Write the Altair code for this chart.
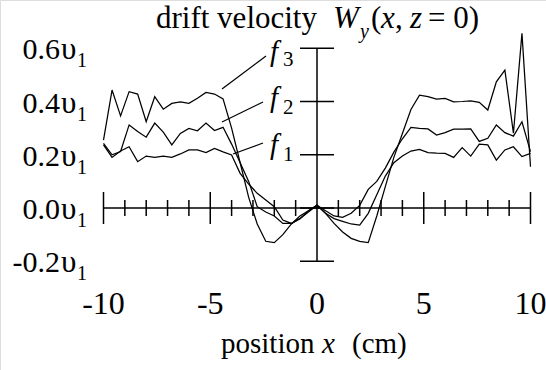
import altair as alt
import pandas as pd

# ---------------- data ----------------
x_pos = [-10.0, -9.6, -9.2, -8.8, -8.4, -8.0, -7.6, -7.2, -6.8, -6.4,
         -6.0, -5.6, -5.2, -4.8, -4.4, -4.0, -3.6, -3.2, -2.8, -2.4,
         -2.0, -1.6, -1.2, -0.8, -0.4, 0.0, 0.4, 0.8, 1.2, 1.6,
         2.0, 2.4, 2.8, 3.2, 3.6, 4.0, 4.4, 4.8, 5.2, 5.6,
         6.0, 6.4, 6.8, 7.2, 7.6, 8.0, 8.4, 8.8, 9.2, 9.6, 10.0]

f1 = [0.237, 0.190, 0.214, 0.230, 0.174, 0.195, 0.190, 0.195, 0.190, 0.203,
      0.218, 0.218, 0.208, 0.224, 0.211, 0.199, 0.130, 0.090, 0.055, 0.030,
      0.005, -0.045, -0.058, -0.040, -0.015, 0.010, -0.020, -0.040, -0.050, -0.060,
      -0.064, -0.020, 0.050, 0.120, 0.170, 0.195, 0.214, 0.220, 0.208, 0.206,
      0.205, 0.190, 0.227, 0.195, 0.240, 0.237, 0.180, 0.218, 0.230, 0.193, 0.205]

f2 = [0.243, 0.200, 0.212, 0.312, 0.287, 0.266, 0.319, 0.285, 0.237, 0.280,
      0.299, 0.290, 0.319, 0.291, 0.303, 0.240, 0.170, 0.100, 0.005, -0.015,
      -0.030, -0.058, -0.058, -0.040, -0.010, 0.010, -0.010, -0.030, -0.035, -0.020,
      0.010, 0.070, 0.100, 0.150, 0.210, 0.260, 0.303, 0.299, 0.297, 0.274,
      0.283, 0.296, 0.296, 0.297, 0.250, 0.262, 0.312, 0.283, 0.270, 0.324, 0.212]

f3 = [0.255, 0.443, 0.346, 0.437, 0.428, 0.324, 0.418, 0.371, 0.393, 0.399,
      0.393, 0.412, 0.434, 0.428, 0.410, 0.300, 0.170, 0.040, -0.060, -0.125,
      -0.130, -0.100, -0.060, -0.030, -0.010, 0.010, -0.020, -0.058, -0.090, -0.114,
      -0.125, -0.130, -0.030, 0.080, 0.190, 0.280, 0.370, 0.424, 0.418, 0.409,
      0.412, 0.399, 0.400, 0.402, 0.397, 0.368, 0.474, 0.518, 0.281, 0.656, 0.155]

series_names = ["f1", "f2", "f3"]
series_subs = ["1", "2", "3"]

x_major = [-10, -5, 5, 10]
x_minor = [-9, -8, -7, -6, -4, -3, -2, -1, 1, 2, 3, 4, 6, 7, 8, 9]
x_tick_labels = [-10, -5, 0, 5, 10]
y_ticks = [-0.2, 0.0, 0.2, 0.4, 0.6]
y_tick_text = ["-0.2", "0.0", "0.2", "0.4", "0.6"]

# ---------------- layout ----------------
W, H = 546, 370
X0_PX, X_PX = 317.0, 21.35     # pixel of x = 0, pixels per cm
Y0_PX, Y_PX = 208.0, 266.25    # pixel of y = 0, pixels per v1
SERIF = "Liberation Serif"
FS = 30
FS_T = 31
FS_SUB = 20

# series-label placement (pixel baselines of "f" and of its subscript)
f_base_px = [154, 107, 61]
sub_base_px = [161, 114, 66]


def px_x(p):
    return (p - X0_PX) / X_PX


def px_y(p):
    return (Y0_PX - p) / Y_PX


xs = alt.Scale(domain=[px_x(0), px_x(W)], nice=False, zero=False)
ys = alt.Scale(domain=[px_y(H), px_y(0)], nice=False, zero=False)


def X(f):
    return alt.X(f, type="quantitative", scale=xs, axis=None)


def Y(f):
    return alt.Y(f, type="quantitative", scale=ys, axis=None)


# ---------------- curves ----------------
rows = []
for name, vals in zip(series_names, [f1, f2, f3]):
    for xv, yv in zip(x_pos, vals):
        rows.append({"x": xv, "v": yv, "s": name})
curves = alt.Chart(pd.DataFrame(rows)).mark_line(
    color="black", strokeWidth=1.25
).encode(x=X("x"), y=Y("v"), detail="s:N")

# ---------------- axes drawn as rules ----------------
def rule_layer(df, sw=1.5):
    return alt.Chart(df).mark_rule(color="black", strokeWidth=sw).encode(
        x=X("x"), x2="x2:Q", y=Y("y"), y2="y2:Q"
    )

axis_df = pd.DataFrame({
    "x": [x_tick_labels[0], 0],
    "x2": [x_tick_labels[-1], 0],
    "y": [0, y_ticks[0]],
    "y2": [0, y_ticks[-1]],
})
maj_h = 16 / Y_PX
min_h = 8 / Y_PX
yt_h = 17 / X_PX
xt_df = pd.DataFrame(
    [{"x": v, "x2": v, "y": -maj_h, "y2": maj_h} for v in x_major]
    + [{"x": v, "x2": v, "y": -min_h, "y2": min_h} for v in x_minor]
)
yt_df = pd.DataFrame([{"x": -yt_h, "x2": yt_h, "y": v, "y2": v} for v in y_ticks])

# ---------------- text ----------------
def text_layer(df, size=FS, italic=False, align="left", dy=0):
    kw = dict(color="black", font=SERIF, fontSize=size, align=align,
              baseline="alphabetic", dy=dy)
    if italic:
        kw["fontStyle"] = "italic"
    return alt.Chart(df).mark_text(**kw).encode(x=X("x"), y=Y("y"), text="t:N")

def one(px, py, t, **kw):
    return text_layer(pd.DataFrame({"x": [px_x(px)], "y": [px_y(py)], "t": [t]}), **kw)

# y tick labels  "0.2υ₁"
ylab_num = text_layer(pd.DataFrame({"x": [px_x(60)] * 5, "y": y_ticks, "t": y_tick_text}),
                      align="right", dy=11)
ylab_u = text_layer(pd.DataFrame({"x": [px_x(61)] * 5, "y": y_ticks, "t": ["υ"] * 5}),
                    size=31, dy=11)
ylab_1 = text_layer(pd.DataFrame({"x": [px_x(77)] * 5, "y": y_ticks, "t": ["1"] * 5}),
                    size=FS_SUB, dy=19)

# x tick labels
xlab = text_layer(pd.DataFrame({"x": x_tick_labels, "y": [px_y(314)] * 5,
                                "t": [str(v) for v in x_tick_labels]}),
                  size=32, align="center")

# x axis title  "position x (cm)"
xtitle = alt.layer(
    one(221, 353, "position", size=29),
    one(322, 353, "x", size=29, italic=True),
    one(352, 353, "(cm)", size=29),
)

# chart title  "drift velocity W_y(x, z = 0)"
TB = 28
title = alt.layer(
    one(156, TB, "drift velocity", size=FS_T),
    one(333, TB, "W", size=FS_T, italic=True),
    one(360, TB + 10, "y", size=FS_SUB, italic=True),
    one(371, TB, "(", size=FS_T),
    one(381, TB, "x", size=FS_T, italic=True),
    one(395, TB, ",", size=FS_T),
    one(410, TB, "z", size=FS_T, italic=True),
    one(428, TB, "= 0)", size=FS_T),
)

# series labels f1, f2, f3 with leader lines
flab_f = text_layer(pd.DataFrame({"x": [px_x(270)] * 3, "y": [px_y(p) for p in f_base_px],
                                  "t": ["f"] * 3}), size=29, italic=True)
flab_n = text_layer(pd.DataFrame({"x": [px_x(283)] * 3, "y": [px_y(p) for p in sub_base_px],
                                  "t": series_subs}), size=21)
leader_df = pd.DataFrame({
    "x": [px_x(263), px_x(263), px_x(266)],
    "y": [px_y(143), px_y(102), px_y(56)],
    "x2": [px_x(233), px_x(222), px_x(222)],
    "y2": [px_y(154), px_y(122), px_y(89)],
})
leaders = rule_layer(leader_df, sw=1.2)

chart = alt.layer(
    rule_layer(axis_df), rule_layer(xt_df), rule_layer(yt_df),
    curves, leaders,
    ylab_num, ylab_u, ylab_1, xlab, xtitle, title, flab_f, flab_n,
).properties(
    width=W, height=H, padding=0, autosize=alt.AutoSizeParams(type="none")
).configure_view(strokeWidth=0).configure(background="white")

chart.save("out.html", embed_options={"renderer": "svg", "actions": False})
